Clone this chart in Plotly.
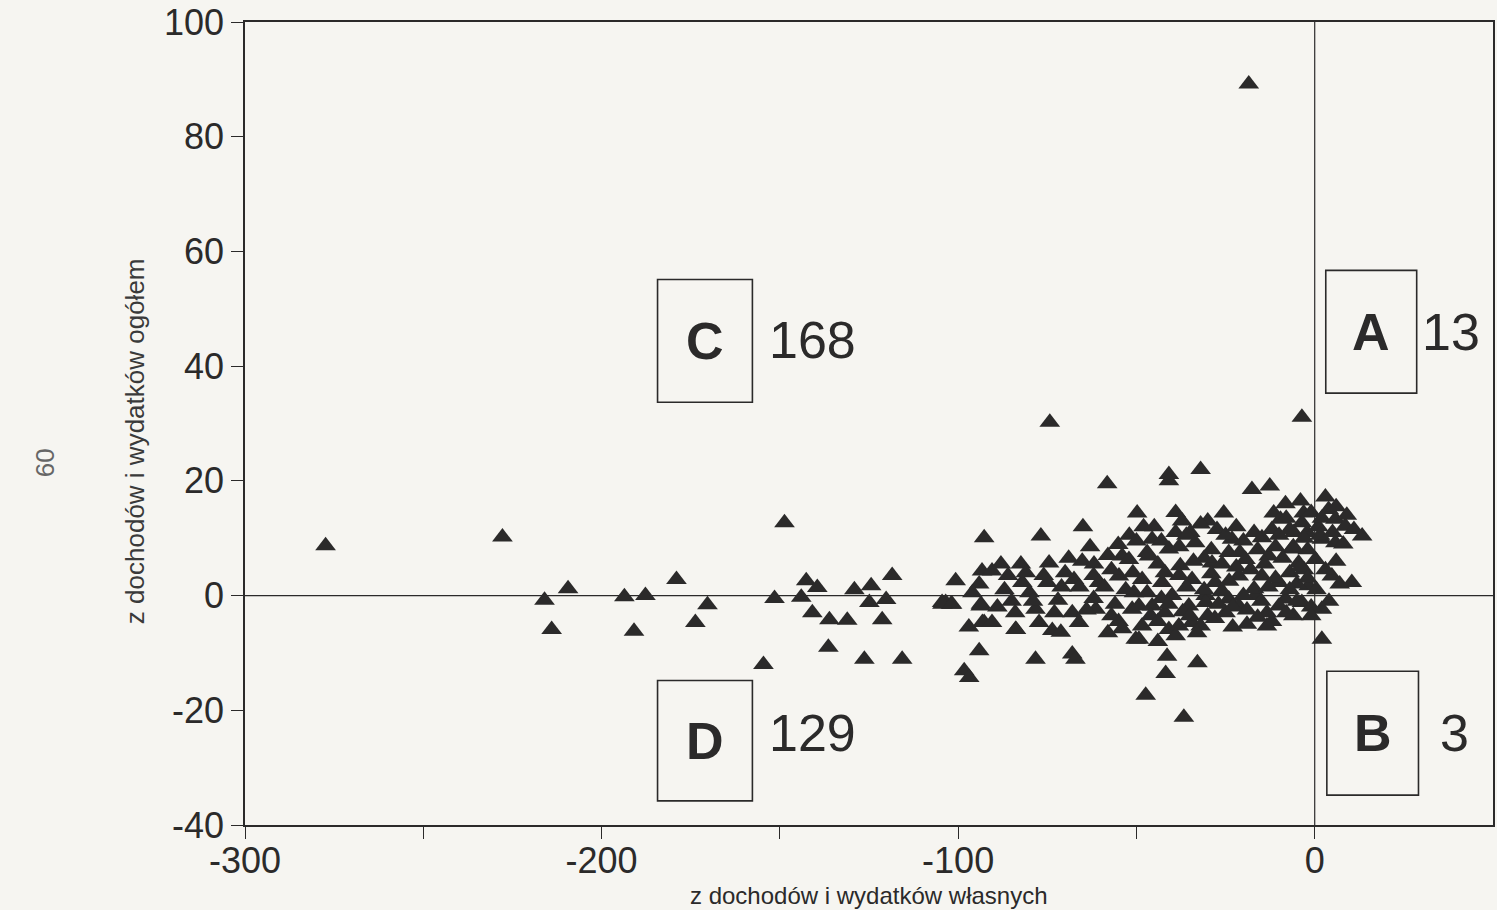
import plotly.graph_objects as go

# ---- data ----
x_vals = [
    -277.4, -227.8, -216.0, -209.4, -214.0, -193.6, -187.7, -190.9, -179.0, -173.7,
    -170.3, -154.6, -151.5, -148.7, -142.6, -139.5, -144.0, -140.9, -136.1, -131.1,
    -129.1, -124.4, -124.9, -120.2, -118.5, -121.3, -136.4, -126.3, -115.7, -104.5,
    -18.5, -74.3, -3.6, -58.2, -40.9, -40.9, -32.0, -17.6, -12.6, -8.2,
    -49.8, -92.7, -76.8, -65.0, -100.7, -103.5, -93.3, -90.5, -94.1, -93.6,
    -92.7, -83.8, -94.1, -98.3, -96.9, -78.3, -68.0, -67.1, -41.4, -41.8,
    -32.9, -47.4, -36.7, 2.0, 3.0, 3.9, -55.1, -82.4, -82.0, -74.5,
    -75.0, -65.2, -61.9, -67.5, -60.5, -54.0, -54.9, -102.0, -37.2, -25.5,
    -27.4, -11.5, -9.6, -3.1, -3.6, -2.1, 5.8, 8.6, 13.3, 5.8,
    2.0, -14.8, -5.9, -6.4, -45.6, -34.9, -33.5, -23.2, -24.1, -40.9,
    -46.5, -52.1, -37.7, -28.8, -19.4, -12.9, -4.5, 0.2, 10.4, 4.8,
    -48.4, -42.8, -34.4, -27.9, -21.3, -14.8, -10.1, -1.7, -40.0, -30.6,
    -24.1, -16.6, -8.2, -50.7, -104.4, -101.7, -93.7, -93.2, -90.5, -83.9,
    -73.6, -71.2, -78.3, -77.3, -68.0, -66.1, -61.4, -51.2, -50.2, -49.3,
    -45.6, -49.3, -48.4, -40.9, -38.1, -34.4, -32.0, -42.0, -35.3, -30.6,
    -25.0, -21.3, -13.4, -13.4, -3.6, 2.0,
    -57.0, -53.0, -56.0, -44.0, -43.0, -38.0, -36.0, -31.0, -29.0, -26.0,
    -22.0, -20.0, -17.0, -16.0, -11.0, -10.0, -7.0, -5.0, -2.0, -1.0,
    -55.0, -46.0, -37.0, -28.0, -23.0, -19.0, -6.0, 1.0, 6.0, 8.0,
    -63.0, -70.0, -72.0, -80.0, -86.0, -85.0, -62.0, -58.0, -44.0, -12.0,
    -8.0, -4.0, -1.0, 2.0, 6.0, -45.0, -30.0, -52.0, -39.0, -3.0,
    -58.0, -59.0, -57.0, -54.0, -51.0, -50.0, -48.0, -47.0, -47.0, -44.0,
    -43.0, -42.0, -41.0, -39.0, -39.0, -38.0, -36.0, -35.0, -34.0, -33.0,
    -32.0, -31.0, -30.0, -29.0, -27.0, -26.0, -25.0, -24.0, -23.0, -22.0,
    -21.0, -20.0, -19.0, -18.0, -17.0, -16.0, -15.0, -14.0, -13.0, -12.0,
    -11.0, -10.0, -9.0, -8.0, -7.0, -7.0, -6.0, -5.0, -4.0, -3.0,
    -2.0, -1.0, 0.5, 1.5, 3.0, 4.0, 5.0, 7.0, 9.0, 11.0,
    -62.0, -64.0, -66.0, -69.0, -71.0, -73.0, -76.0, -79.0, -81.0, -84.0,
    -87.0, -88.0, -89.0, -96.0, -97.0,
]
y_vals = [
    8.7, 10.2, -0.8, 1.2, -5.9, -0.2, 0.0, -6.2, 2.8, -4.7,
    -1.6, -12.0, -0.5, 12.7, 2.6, 1.4, -0.3, -3.0, -4.2, -4.3,
    1.0, 1.7, -1.2, -0.7, 3.5, -4.2, -9.0, -11.1, -11.1, -1.2,
    89.2, 30.2, 31.1, 19.5, 21.1, 20.0, 22.0, 18.5, 19.1, 16.0,
    14.4, 10.1, 10.4, 12.0, 2.6, -1.2, 4.3, 4.3, 2.0, -1.5,
    -4.7, -5.9, -9.6, -13.1, -14.3, -11.1, -10.2, -11.1, -10.6, -13.6,
    -11.7, -17.4, -21.2, -7.6, 17.2, 15.0, 8.9, 5.5, 2.3, 5.7,
    2.3, 6.0, 5.5, 2.8, 2.3, 6.9, 3.4, -1.5, 13.0, 14.4,
    11.5, 14.4, 13.3, 14.4, 12.7, 11.0, 13.3, 12.1, 10.4, 9.2,
    9.8, 10.1, 11.0, 8.1, 9.8, 11.0, 9.2, 9.8, 7.5, 8.1,
    6.9, 6.3, 5.2, 5.7, 6.3, 6.9, 5.7, 6.3, 2.3, 3.4,
    2.8, 2.3, 2.8, 2.3, 3.4, 3.4, 2.3, 1.7, 0.0, 0.0,
    -0.6, 0.0, -0.6, 0.5, -1.5, -1.5, -1.8, -4.7, -4.7, -5.9,
    -6.1, -6.4, -2.4, -4.7, -3.0, -4.7, -2.4, -2.4, -7.6, -1.8,
    -1.8, -7.6, -5.3, -5.9, -5.3, -4.7, -5.3, -3.0, -1.8, -1.2,
    -3.0, -1.8, -3.0, -5.3, -1.2, -2.4,
    4.5, 1.0, -1.5, 5.5, -0.5, 8.5, 1.5, 6.5, 3.8, 0.8,
    5.0, 9.5, 1.2, -3.8, 8.5, -1.8, 4.0, 2.0, 8.0, -2.0,
    -4.5, -3.5, -2.8, -4.0, -5.5, -2.5, -3.5, 12.0, 6.0, 9.0,
    8.5, 4.0, -0.8, 0.5, 3.5, -1.0, -0.5, -6.5, -8.0, 11.5,
    13.5, 16.5, 14.5, 13.5, 15.5, 12.0, 13.0, 10.5, 11.0, 4.5,
    7.0, 1.5, -3.5, -5.8, 4.0, 9.5, 12.0, 0.5, 7.5, -4.5,
    9.5, 4.0, -1.5, -7.0, 14.5, 3.5, 10.5, -3.5, 6.0, -6.5,
    12.5, 1.0, -3.5, 8.0, -1.5, 5.5, 10.5, 2.5, -2.0, 12.0,
    7.5, 0.0, -5.0, 4.5, 11.0, 8.0, -1.0, 5.5, 1.5, -4.5,
    3.0, 10.5, 6.5, -3.0, 1.0, 11.5, 8.5, -1.0, 5.0, 10.0,
    3.0, -3.5, 1.0, 10.5, 4.5, -1.0, 11.0, 2.0, 14.0, 11.5,
    3.5, -2.5, 1.5, 6.5, 1.5, -3.0, 3.5, -1.0, 4.0, -3.0,
    1.0, 5.5, -2.0, 0.5, -5.5,
]

quadrant_letters = ["C", "A", "D", "B"]
quadrant_counts = ["168", "13", "129", "3"]

x_ticks = [-300, -250, -200, -150, -100, -50, 0]
x_tick_text = ["-300", "", "-200", "", "-100", "", "0"]
y_ticks = [-40, -20, 0, 20, 40, 60, 80, 100]
y_tick_text = ["-40", "-20", "0", "20", "40", "60", "80", "100"]

x_title = "z dochodów i wydatków własnych"
y_title = "z dochodów i wydatków ogółem"
page_no = "60"

# ---- figure ----
BG = "#f6f5f1"
INK = "#2b2a2a"
WIDE = "Liberation Sans, Arial, Helvetica, sans-serif"

fig = go.Figure()
fig.add_trace(go.Scatter(
    x=x_vals, y=y_vals, mode="markers",
    marker=dict(symbol="triangle-up", size=18, color=INK, line=dict(width=0)),
    hoverinfo="skip", showlegend=False,
))

shapes = []
shapes.append(dict(type="line", xref="x", yref="y", x0=0, x1=0, y0=-40, y1=100,
                   line=dict(color=INK, width=1.2), layer="below"))
shapes.append(dict(type="line", xref="x", yref="y", x0=-300, x1=50, y0=0, y1=0,
                   line=dict(color=INK, width=1.2), layer="below"))

boxes = [(-184.3, -157.7, 33.7, 55.1), (3.1, 28.6, 35.3, 56.7),
         (-184.3, -157.7, -35.8, -14.8), (3.4, 29.1, -34.8, -13.2)]
count_x = [-153.5, 29.6, -153.5, 34.5]
count_y = [44.5, 46.0, -24.0, -24.0]
annotations = []
for (bx0, bx1, by0, by1), letter, cnt, cx, cy in zip(boxes, quadrant_letters, quadrant_counts, count_x, count_y):
    shapes.append(dict(type="rect", xref="x", yref="y", x0=bx0, x1=bx1, y0=by0, y1=by1,
                       line=dict(color=INK, width=1.6), fillcolor="rgba(0,0,0,0)"))
    annotations.append(dict(x=(bx0 + bx1) / 2, y=(by0 + by1) / 2, xref="x", yref="y",
                            text="<b>" + letter + "</b>", showarrow=False,
                            font=dict(family=WIDE, size=52, color=INK),
                            xanchor="center", yanchor="middle"))
    annotations.append(dict(x=cx, y=cy, xref="x", yref="y", text=cnt, showarrow=False,
                            font=dict(family=WIDE, size=52, color=INK),
                            xanchor="left", yanchor="middle"))

annotations.append(dict(x=(870 - 245) / 1250, y=(825 - 896) / 805, xref="paper", yref="paper",
                        text=x_title, showarrow=False, xanchor="center", yanchor="middle",
                        font=dict(family=WIDE, size=24, color=INK)))
annotations.append(dict(x=(135 - 245) / 1250, y=(825 - 440) / 805, xref="paper", yref="paper",
                        text=y_title, showarrow=False, xanchor="center", yanchor="middle",
                        textangle=-90, font=dict(family=WIDE, size=26, color="#3a3a3a")))
annotations.append(dict(x=(45 - 245) / 1250, y=(825 - 462) / 805, xref="paper", yref="paper",
                        text=page_no, showarrow=False, xanchor="center", yanchor="middle",
                        textangle=-90, font=dict(family=WIDE, size=26, color="#666")))

fig.update_layout(
    width=1497, height=910,
    margin=dict(l=245, r=2, t=20, b=85),
    paper_bgcolor=BG, plot_bgcolor=BG,
    shapes=shapes, annotations=annotations,
    xaxis=dict(range=[-300, 50], tickmode="array", tickvals=x_ticks, ticktext=x_tick_text,
               ticks="outside", ticklen=12, tickwidth=1.2, tickcolor=INK,
               showgrid=False, zeroline=False, showline=True, linecolor=INK, linewidth=1.5,
               mirror=True, ticklabeloverflow="allow", ticklabelstandoff=-9,
               tickfont=dict(family=WIDE, size=36, color=INK)),
    yaxis=dict(range=[-40, 100], tickmode="array", tickvals=y_ticks, ticktext=y_tick_text,
               ticks="outside", ticklen=12, tickwidth=1.2, tickcolor=INK,
               showgrid=False, zeroline=False, showline=True, linecolor=INK, linewidth=1.5,
               mirror=True, ticklabeloverflow="allow",
               tickfont=dict(family=WIDE, size=36, color=INK)),
)

fig.write_html("out.html", config={"displayModeBar": False},
               post_script="document.body.style.margin='0px';document.body.style.background='#f6f5f1';")
